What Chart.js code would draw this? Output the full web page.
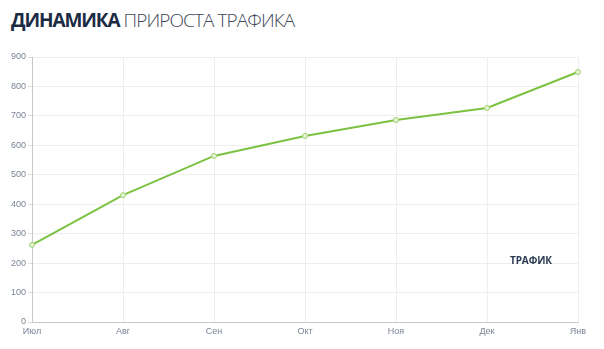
<!DOCTYPE html>
<html><head><meta charset="utf-8">
<script src="https://cdn.jsdelivr.net/npm/chart.js@4"></script>
<style>
html,body{margin:0;padding:0;background:#fff;width:604px;height:349px;overflow:hidden;}
#title{position:absolute;left:11px;top:7px;font-family:"Open Sans",sans-serif;font-size:19px;color:#1c2b44;letter-spacing:-0.9px;white-space:nowrap;}
#title b{font-weight:700;letter-spacing:-1.1px;}
#title span{font-weight:300;color:#3e4858;}
#wrap{position:absolute;left:0;top:45px;width:604px;height:304px;}
#legend{position:absolute;left:510px;top:253px;font-family:"Open Sans",sans-serif;font-weight:700;font-size:10px;letter-spacing:-0.1px;color:#2b3a52;}
</style></head>
<body>
<div id="title"><b>ДИНАМИКА</b> <span>ПРИРОСТА ТРАФИКА</span></div>
<div id="wrap"><canvas id="c" width="604" height="304"></canvas></div>
<div id="legend">ТРАФИК</div>
<script>
const categories = ["Июл","Авг","Сен","Окт","Ноя","Дек","Янв"];
const trafficValues = [262, 431, 564, 632, 686, 727, 849];
const yTicks = [0,100,200,300,400,500,600,700,800,900];

new Chart(document.getElementById('c'), {
  type: 'line',
  data: {
    labels: categories,
    datasets: [{
      label: 'ТРАФИК',
      data: trafficValues,
      borderColor: '#7cc242',
      backgroundColor: '#e4f3d6',
      borderWidth: 2,
      pointRadius: 2.5,
      pointBorderWidth: 1,
      pointBackgroundColor: '#e4f3d6',
      pointBorderColor: '#9ed36f',
      tension: 0,
      fill: false
    }]
  },
  options: {
    responsive: false,
    animation: false,
    layout: { padding: { top: 12, right: 26, left: 0, bottom: 0 } },
    plugins: { legend: { display: false }, tooltip: { enabled: false } },
    scales: {
      x: {
        offset: false,
        grid: { color: '#eeeeee', drawTicks: false },
        border: { color: '#c8c8c8', width: 1 },
        ticks: { color: '#7a8496', font: { family: 'Liberation Sans', size: 9 }, padding: 4, maxRotation: 0 },
        afterFit: s => { s.height = 27; }
      },
      y: {
        min: 0, max: 900,
        afterBuildTicks: s => { s.ticks = yTicks.map(v => ({ value: v })); },
        grid: { color: '#eeeeee', drawTicks: true, tickLength: 4, tickColor: '#dddddd' },
        border: { color: '#c8c8c8', width: 1 },
        ticks: { color: '#7a8496', font: { family: 'Liberation Sans', size: 9 }, padding: 2 },
        afterFit: s => { s.width = 32; }
      }
    }
  }
});
</script>
</body></html>
